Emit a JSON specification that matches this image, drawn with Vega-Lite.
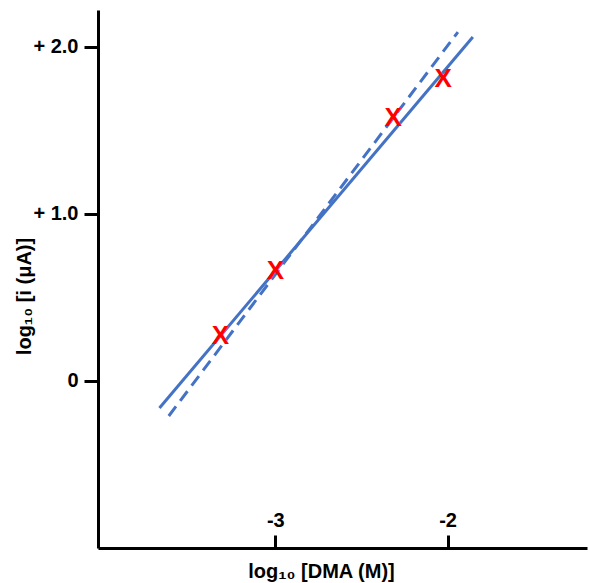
{
  "$schema": "https://vega.github.io/schema/vega-lite/v6.json",
  "width": 489,
  "height": 538,
  "autosize": "none",
  "padding": {"left": 98, "top": 10, "right": 2, "bottom": 35},
  "background": "white",
  "config": {"view": {"stroke": null}, "font": "Liberation Sans"},
  "datasets": {
    "points": [
      {"logDMA": -3.319, "logI": 0.275},
      {"logDMA": -3.0, "logI": 0.665},
      {"logDMA": -2.315, "logI": 1.581},
      {"logDMA": -2.025, "logI": 1.814}
    ],
    "solid": [
      {"logDMA": -3.673, "logI": -0.162},
      {"logDMA": -1.853, "logI": 2.058}
    ],
    "dashed": [
      {"logDMA": -3.619, "logI": -0.21},
      {"logDMA": -1.94, "logI": 2.088}
    ]
  },
  "layer": [
    {
      "data": {"name": "solid"},
      "mark": {"type": "line", "color": "#4472C4", "strokeWidth": 3},
      "encoding": {
        "x": {
          "field": "logDMA", "type": "quantitative",
          "scale": {"domain": [-4.03, -1.19], "nice": false, "zero": false},
          "axis": {
            "values": [-3, -2], "labelExpr": "'-' + toString(abs(datum.value))", "grid": false,
            "domainColor": "black", "domainWidth": 3,
            "tickColor": "black", "tickWidth": 3, "tickSize": -13,
            "labelBaseline": "bottom", "labelPadding": -5,
            "labelFontSize": 20, "labelFontWeight": "bold", "labelColor": "black",
            "title": "log₁₀ [DMA (M)]", "titleFontSize": 20, "titleFontWeight": "bold", "titleColor": "black",
            "titleX": 223, "titleY": 23, "titleBaseline": "middle", "titleAlign": "center"
          }
        },
        "y": {
          "field": "logI", "type": "quantitative",
          "scale": {"domain": [-1.0, 2.22], "nice": false, "zero": false},
          "axis": {
            "values": [0, 1, 2], "grid": false,
            "labelExpr": "datum.value == 0 ? '0' : '+ ' + format(datum.value, '.1f')",
            "domainColor": "black", "domainWidth": 3,
            "tickColor": "black", "tickWidth": 3, "tickSize": 14,
            "labelPadding": 6,
            "labelFontSize": 20, "labelFontWeight": "bold", "labelColor": "black",
            "title": "log₁₀ [i (μA)]", "titleFontSize": 20, "titleFontWeight": "bold", "titleColor": "black",
            "titleX": -74, "titleY": 286, "titleAngle": -90, "titleBaseline": "middle", "titleAlign": "center"
          }
        }
      }
    },
    {
      "data": {"name": "dashed"},
      "mark": {"type": "line", "color": "#4472C4", "strokeWidth": 3, "strokeDash": [12, 7]},
      "encoding": {
        "x": {"field": "logDMA", "type": "quantitative"},
        "y": {"field": "logI", "type": "quantitative"}
      }
    },
    {
      "data": {"name": "points"},
      "mark": {"type": "text", "text": "X", "color": "#FF0000", "fontSize": 26, "fontWeight": "bold", "baseline": "middle", "dy": 1.5},
      "encoding": {
        "x": {"field": "logDMA", "type": "quantitative"},
        "y": {"field": "logI", "type": "quantitative"}
      }
    }
  ]
}
